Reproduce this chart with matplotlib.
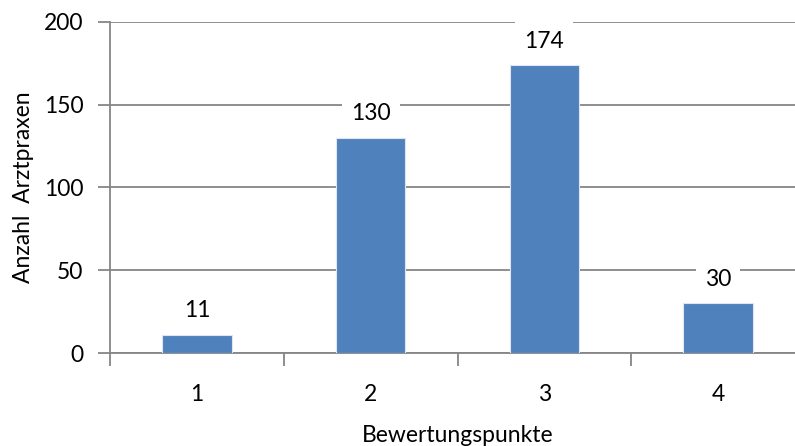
import matplotlib.pyplot as plt

# Bewertungspunkte und Anzahl der Arztpraxen
categories = ["1", "2", "3", "4"]
counts = [11, 130, 174, 30]
y_ticks = [0, 50, 100, 150, 200]

plt.rcParams['font.family'] = ['Lato', 'DejaVu Sans']
fs = 16.5

fig = plt.figure(figsize=(7.95, 4.46), dpi=100)
ax = fig.add_axes([0.1384, 0.2085, 0.8742, 0.7422])

x = list(range(len(categories)))
bars = ax.bar(x, counts, width=0.4, color='#4F81BD', edgecolor='#dfe6ef',
              linewidth=0.8, zorder=3)

# value labels sit on white boxes that break the gridlines
for rect, val in zip(bars, counts):
    ax.annotate(str(val), (rect.get_x() + rect.get_width() / 2, rect.get_height()),
                xytext=(0, 24), textcoords='offset pixels', ha='center', va='center',
                fontsize=fs, color='black', zorder=4,
                bbox=dict(boxstyle='square,pad=0.4', fc='white', ec='none'))

ax.set_xlim(-0.5, 3.5)
ax.set_ylim(0, 200)
ax.set_yticks(y_ticks)
ax.yaxis.grid(True, color='#868686', linewidth=1.3, zorder=0)
ax.set_axisbelow(True)

# category ticks sit on the boundaries, labels in the middle
ax.set_xticks([i - 0.5 for i in range(len(categories) + 1)])
ax.set_xticklabels([])
ax.set_xticks(x, minor=True)
ax.set_xticklabels(categories, minor=True)
ax.tick_params(axis='x', which='major', length=9, width=1.3, color='#868686', direction='out')
ax.tick_params(axis='x', which='minor', length=0, pad=22, labelsize=fs)
ax.tick_params(axis='y', length=9, width=1.3, color='#868686', labelsize=fs, pad=10)

for side in ['top', 'right']:
    ax.spines[side].set_visible(False)
for side in ['left', 'bottom']:
    ax.spines[side].set_color('#868686')
    ax.spines[side].set_linewidth(1.3)

ax.set_ylabel('Anzahl  Arztpraxen', fontsize=fs, labelpad=7)
ax.set_xlabel('Bewertungspunkte', fontsize=fs, labelpad=15)

fig.savefig('out.png', dpi=100)
